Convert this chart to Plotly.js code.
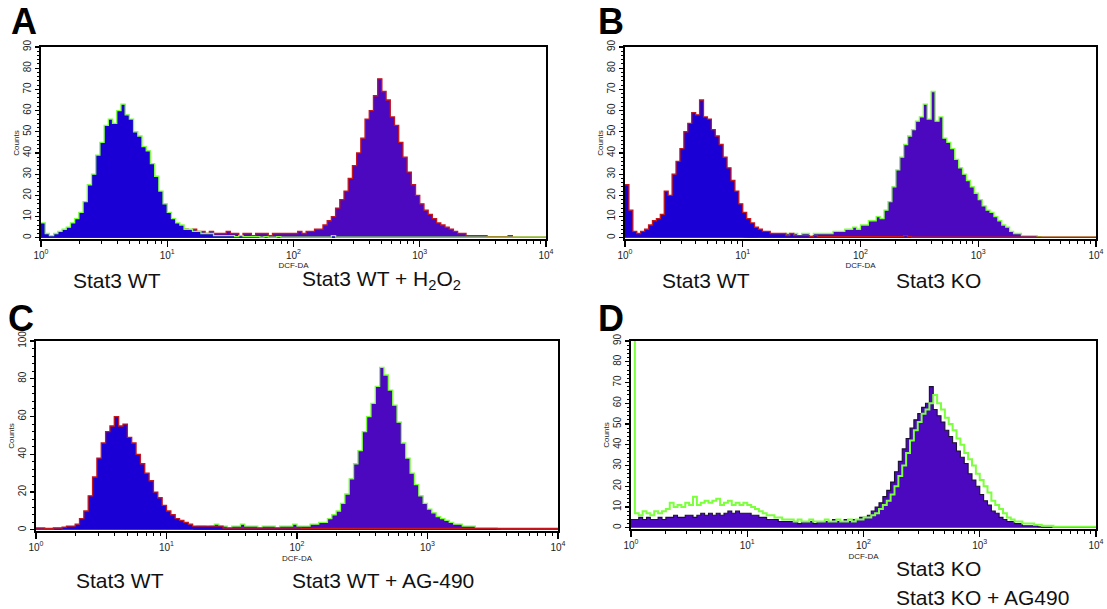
<!DOCTYPE html>
<html>
<head>
<meta charset="utf-8">
<script src="https://cdn.plot.ly/plotly-3.0.1.min.js"></script>
<style>html,body{margin:0;padding:0;background:#fff;}#chart{width:1107px;height:609px;}</style>
</head>
<body>
<div id="chart"></div>
<script>
// Histogram channels: 30 log-spaced channels per decade, 4 decades (10^0 .. 10^4)
const channelsPerDecade = 30;
const decadeTickVals = [1, 10, 100, 1000, 10000];
const decadeTickText = ['10<sup>0</sup>', '10<sup>1</sup>', '10<sup>2</sup>', '10<sup>3</sup>', '10<sup>4</sup>'];

// Panel A
const aWT = [7,2,1,2,3,4,5,7,9,12, 17,25,30,39,45,53,56,54,60,63, 58,56,50,48,43,41,35,29,22,16,
  12,9,7,6,4,4,3,3,2,2, 2,1,1,1,1,1,0.5,1,0.5,0.5, 0.5,0.5,0.3,0.5,0.3,0.3,0.5,0.3,0.3,0.3,
  0.3,0.3,0.3,0.3,0.3,0.3,0.3,0.3,0.3,1, 0.3,0.3,0.3,0.3,0.3,0.3,0.3,0.3,0.3,0.3,
  0.3,0.3,0.3,0.3,0.3,0.3,0.3,0.3,0.3,0.3, 0.3,0.3,0.3,0.3,0.3,0.3,0.3,0.3,0.3,0.3,
  0.3,0.3,0.3,0.3,0.3,0.3,0.3,0.3,0.3,0.3, 0.3,0.3,0.3,0.3,0.3,0.3,0.3,0.3,0.3,0.3];
const aH2O2 = [0.3,0.3,0.3,0.3,0.3,0.3,0.3,0.3,0.3,0.3, 0.3,0.3,0.3,0.3,0.3,0.3,0.3,0.3,0.3,0.3,
  0.3,0.3,0.3,0.3,0.5,0.5,0.5,1,1,1, 2,3,3,3,4,3,4,3,3,2,
  3,2,2,2,3,2,2,1,2,2, 1,2,2,2,1,2,2,2,2,2,
  2,3,2,3,3,4,4,6,8,10, 14,18,22,28,34,40,47,56,60,67,
  75,69,65,57,53,45,38,31,25,20, 16,13,11,9,7,6,5,4,3,2,
  2,1,1,1,1,1,0.5,0.5,0.5,0.5, 0.5,1,0.3,0.3,0.3,0.3,0.3,0.3,0.3,0.3];

// Panel B
const bWT = [25,13,3,2,3,4,6,8,9,11, 22,20,30,36,42,50,54,59,58,65, 57,56,51,48,44,38,33,27,22,16,
  12,9,7,5,4,3,3,2,2,2, 2,1,2,1,1,1,1,0.5,1,0.5, 0.5,0.5,0.5,0.5,0.5,0.5,0.5,0.5,0.5,0.5,
  0.5,0.5,0.5,0.5,0.5,0.5,0.5,0.5,0.5,0.5, 0.5,1,0.5,0.3,0.3,0.3,0.3,0.3,0.3,0.3,
  0.3,0.3,0.3,0.3,0.3,0.3,0.3,0.3,0.3,0.3, 0.3,0.3,0.3,0.3,0.3,0.3,0.3,0.3,0.3,0.3,
  0.3,0.3,0.3,0.3,0.3,0.3,0.3,0.3,0.3,0.3, 0.3,0.3,0.3,0.3,0.3,0.3,0.3,0.3,0.3,0.3];
const bKO = [0.3,0.3,0.3,0.3,0.3,0.3,0.3,0.3,0.3,0.3, 0.3,0.3,0.3,0.3,0.3,0.3,0.3,0.3,0.3,0.3,
  0.3,0.3,0.3,0.3,0.3,0.3,0.3,0.3,0.3,0.3, 0.5,1,1,1,0.5,1,1,1,1,1,
  1,2,1,2,1,2,2,1,2,2, 2,2,2,3,3,3,4,4,5,4,
  6,6,8,8,10,9,13,17,24,32, 38,44,48,51,55,57,63,56,69,55,
  57,47,45,42,37,33,30,27,24,21, 18,15,13,12,10,8,6,5,3,2,
  2,1,1,1,1,0.5,0.3,0.3,0.3,0.3, 0.3,0.3,0.3,0.3,0.3,0.3,0.3,0.3,0.3,0.3];

// Panel C
const cWT = [1,1,0.8,0.8,1,1,1.5,2,2,3, 6,10,18,28,38,46,52,55,60,55, 56,49,46,40,35,30,26,20,17,13,
  10,8,6,5,4,3,2,2,2,2, 2,2,2,1,1,1,1,1,1,1, 1,1,1,1,1,1,1,1,1,1,
  1,0.8,0.8,0.8,0.8,0.8,0.8,0.8,0.8,0.8, 0.8,0.8,0.8,0.8,0.8,0.8,0.8,0.8,0.8,0.8,
  0.8,0.8,0.8,0.8,0.8,0.8,0.8,0.8,0.8,0.8, 0.8,0.8,0.8,0.8,0.8,0.8,0.8,0.8,0.8,0.8,
  0.8,0.8,0.8,0.8,0.8,0.8,0.8,0.8,0.8,0.8, 0.8,0.8,0.8,0.8,0.8,0.8,0.8,0.8,0.8,0.8];
const cAG490 = [0.3,0.3,0.3,0.3,1,1,0.3,0.3,0.3,0.3, 0.3,0.3,0.3,0.3,0.3,0.3,0.3,0.3,0.3,0.3,
  0.3,0.3,0.3,0.3,0.3,0.3,0.3,0.3,0.3,0.3, 0.3,0.3,0.3,0.3,0.3,0.3,1,2,2,1,
  2,3,2,2,1,2,2,3,2,2, 2,1,2,2,2,1,2,2,2,3,
  2,2,2,3,3,4,4,6,8,10, 14,19,27,35,42,52,60,67,76,86,
  82,74,66,57,46,38,30,24,18,14, 11,9,7,6,5,4,3,3,2,2,
  2,1,1,1,1,1,0.5,0.3,0.3,0.3, 0.3,0.3,0.3,0.3,0.3,0.3,0.3,0.3,0.3,0.3];

// Panel D
const dKO = [4,4,5,4,5,4,4,5,4,5, 5,6,5,5,6,6,5,6,7,6, 7,6,7,6,7,8,7,8,7,7,
  7,6,6,5,5,4,4,4,3,3, 3,3,3,2,3,3,3,2,3,3, 3,3,4,3,3,4,3,4,4,5,
  5,6,8,10,12,15,18,22,27,32, 38,43,48,52,55,58,60,68,57,54,
  51,47,44,41,37,34,31,26,23,20, 16,13,11,8,7,5,4,3,3,2,
  2,1,1,1,1,0.5,0.3,0.3,0.3,0.3, 0.3,0.3,0.3,0.3,0.3,0.3,0.3,0.3,0.3,0.3];
const dKOAG490 = [95,7,6,8,7,6,8,7,8,9, 12,10,11,10,12,11,15,11,12,13, 12,13,14,11,12,13,11,12,11,12,
  11,10,9,8,7,6,6,5,5,4, 4,4,3,4,3,3,4,3,3,3, 4,3,3,4,3,3,4,3,4,4,
  5,5,6,7,9,11,13,16,20,25, 30,36,42,47,51,55,57,60,64,60,
  57,53,50,47,43,40,36,33,30,26, 23,20,17,13,11,9,7,5,4,3,
  3,2,2,2,1.5,1.5,1,1,1,0.5, 0.5,0.5,0.5,0.5,0.5,0.5,0.5,0.5,0.5,0.5];

// ---------- drawing ----------
const channels = aWT.map((_, i) => Math.pow(10, i / channelsPerDecade));
const BLUE = '#1a00d4', PURPLE = '#4b08bf', GREEN = '#7cff3c', RED = '#c4161c', DARK = '#1c1030';

function hist(vals, fillcolor, linecolor, ax, lw) {
  return {
    x: channels.concat([10000]),
    y: vals.concat([vals[vals.length - 1]]),
    type: 'scatter', mode: 'lines',
    line: {shape: 'hv', color: linecolor, width: lw || 1.3},
    fill: fillcolor ? 'tozeroy' : 'none',
    fillcolor: fillcolor || undefined,
    xaxis: 'x' + (ax === 1 ? '' : ax), yaxis: 'y' + (ax === 1 ? '' : ax),
    hoverinfo: 'skip', showlegend: false
  };
}

const data = [
  hist(aH2O2, PURPLE, RED, 1),
  hist(aWT, BLUE, GREEN, 1),
  hist(bKO, PURPLE, GREEN, 2),
  hist(bWT, BLUE, RED, 2),
  hist(cAG490, PURPLE, GREEN, 3),
  hist(cWT, BLUE, RED, 3),
  hist(dKO, PURPLE, DARK, 4, 1.1),
  hist(dKOAG490, null, GREEN, 4, 2)
];

const minorVals = [];
for (let d = 0; d < 4; d++) for (let m = 2; m <= 9; m++) minorVals.push(m * Math.pow(10, d));

const W = 1107, H = 609;
const FAM = 'Liberation Sans, Arial, sans-serif';
function xAxis(l, r, anchor, standoff) {
  return {
    type: 'log', range: [0, 4], domain: [l / W, r / W], anchor: anchor,
    showline: true, mirror: true, linecolor: '#000', linewidth: 1.6,
    ticks: 'outside', ticklen: 6, tickwidth: 1.2, tickcolor: '#000',
    tickmode: 'array', tickvals: decadeTickVals, ticktext: decadeTickText,
    tickfont: {family: FAM, size: 10, color: '#222'},
    showgrid: false, zeroline: false,
    minor: {ticks: 'outside', ticklen: 3.5, tickwidth: 1, tickcolor: '#000', tickvals: minorVals},
    title: {text: 'DCF-DA', font: {family: FAM, size: 8, color: '#222'}, standoff: standoff}
  };
}
function yAxis(top, bottom, anchor, ymax, dtick, minorTick) {
  return {
    range: [-0.6, ymax], domain: [1 - bottom / H, 1 - top / H], anchor: anchor,
    showline: true, mirror: true, linecolor: '#000', linewidth: 1.6,
    ticks: 'outside', ticklen: 4, tickwidth: 1.2, tickcolor: '#000',
    tick0: 0, dtick: dtick, tickangle: -90,
    tickfont: {family: FAM, size: 10, color: '#222'},
    showgrid: false, zeroline: false,
    minor: {ticks: 'outside', ticklen: 2, tickwidth: 1, tickcolor: '#000', dtick: minorTick},
    title: {text: 'Counts', font: {family: FAM, size: 8, color: '#222'}, standoff: 1}
  };
}

const fontLabel = {family: FAM, size: 21, color: '#111'};
const fontLetter = {family: FAM, size: 36, color: '#000'};
function note(text, x, y, font) {
  return {text: text, x: x / W, y: 1 - y / H, xref: 'paper', yref: 'paper',
    xanchor: 'left', yanchor: 'middle', showarrow: false, font: font};
}

const layout = {
  width: W, height: H, autosize: false,
  margin: {l: 0, r: 0, t: 0, b: 0},
  paper_bgcolor: '#fff', plot_bgcolor: '#fff',
  xaxis: xAxis(41, 546, 'y', 1),
  yaxis: yAxis(47, 239, 'x', 90, 10, 2),
  xaxis2: xAxis(625, 1096, 'y2', 1),
  yaxis2: yAxis(47, 239, 'x2', 90, 10, 2),
  xaxis3: xAxis(36, 558, 'y3', 4),
  yaxis3: yAxis(341, 531, 'x3', 100, 20, 4),
  xaxis4: xAxis(631, 1096, 'y4', 4),
  yaxis4: yAxis(341, 529, 'x4', 90, 10, 2),
  annotations: [
    note('<b>A</b>', 9, 22, fontLetter),
    note('<b>B</b>', 596, 22, fontLetter),
    note('<b>C</b>', 6, 318, fontLetter),
    note('<b>D</b>', 596, 318, fontLetter),
    note('Stat3 WT', 71, 280, fontLabel),
    note('Stat3 WT + H<sub>2</sub>O<sub>2</sub>', 300, 280, fontLabel),
    note('Stat3 WT', 660, 280, fontLabel),
    note('Stat3 KO', 894, 280, fontLabel),
    note('Stat3 WT', 74, 580, fontLabel),
    note('Stat3 WT + AG-490', 290, 580, fontLabel),
    note('Stat3 KO', 894, 568, fontLabel),
    note('Stat3 KO + AG490', 894, 597, fontLabel)
  ]
};

Plotly.newPlot('chart', data, layout, {staticPlot: true, displayModeBar: false});
</script>
</body>
</html>
